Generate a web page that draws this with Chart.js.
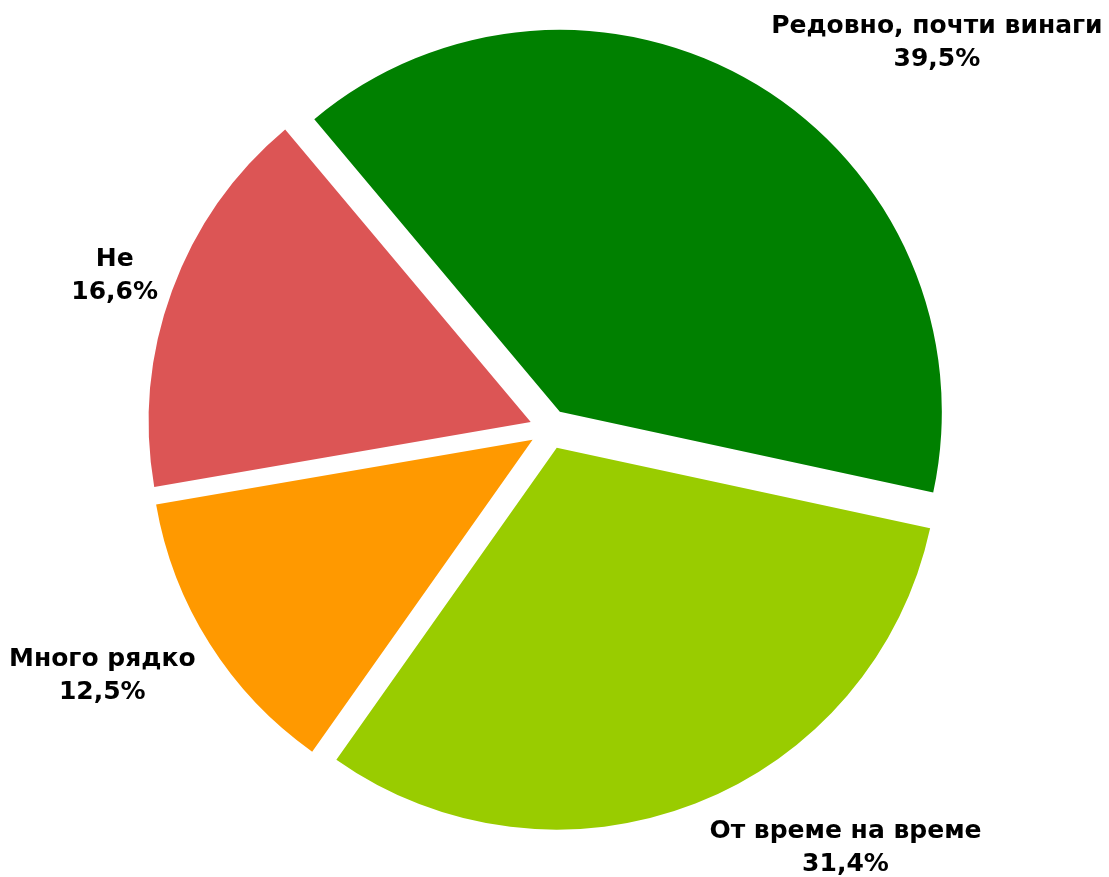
<!DOCTYPE html>
<html lang="bg">
<head>
<meta charset="utf-8">
<title>Pie</title>
<script src="https://cdn.jsdelivr.net/npm/chart.js@4/dist/chart.umd.min.js"></script>
<style>
  html, body { margin: 0; padding: 0; background: #ffffff; }
  #wrap { width: 1109px; height: 877px; }
</style>
</head>
<body>
<div id="wrap"><canvas id="pie" width="1109" height="877"></canvas></div>
<script>
// categories and shares (%)
const categories = ["Редовно, почти винаги", "От време на време", "Много рядко", "Не"];
const shares = [39.5, 31.4, 12.5, 16.6];
const sliceColors = ["#008000", "#99CC00", "#FF9900", "#DC5555"];

const EXPLODE = 20;      // how far every slice is pulled out from the center
const PAD_X = 14;        // label box padding
const HALF_Y = 54;       // half height of the label box incl. padding
const EDGE_HALF = 28;    // keeps text inside the canvas
const TEXT_DY = 4;       // baseline correction for "middle"
const LABEL_FONT = 'bold 25px "DejaVu Sans", Verdana, sans-serif';
const LINE_H = 33;

function pct(v) {
  return v.toFixed(1).replace(".", ",") + "%";
}

// draws the slices moved outwards along their middle angle
const explodePlugin = {
  id: "explode",
  beforeDatasetsDraw(chart) {
    const ctx = chart.ctx;
    const meta = chart.getDatasetMeta(0);
    meta.data.forEach(function (arc) {
      const mid = (arc.startAngle + arc.endAngle) / 2;
      ctx.save();
      ctx.translate(Math.cos(mid) * EXPLODE, Math.sin(mid) * EXPLODE);
      arc.draw(ctx);
      ctx.restore();
    });
    return false; // the default drawing is skipped
  }
};

// name + percentage outside of every slice
const outsideLabels = {
  id: "outsideLabels",
  afterDraw(chart) {
    const ctx = chart.ctx;
    const meta = chart.getDatasetMeta(0);
    ctx.save();
    ctx.font = LABEL_FONT;
    ctx.fillStyle = "#000000";
    ctx.textAlign = "center";
    ctx.textBaseline = "middle";
    meta.data.forEach(function (arc, i) {
      const mid = (arc.startAngle + arc.endAngle) / 2;
      const dx = Math.cos(mid), dy = Math.sin(mid);
      const d = arc.outerRadius + EXPLODE;
      const ax = arc.x + dx * d;
      const ay = arc.y + dy * d;
      const l1 = categories[i];
      const l2 = pct(shares[i]);
      const w = Math.max(ctx.measureText(l1).width, ctx.measureText(l2).width);
      let cx = ax + Math.sign(dx) * (w / 2 + PAD_X);
      let cy = ay + dy * HALF_Y + TEXT_DY;
      cx = Math.min(Math.max(cx, w / 2), chart.width - w / 2 - 6);
      cy = Math.min(Math.max(cy, EDGE_HALF), chart.height - EDGE_HALF - 1);
      ctx.fillText(l1, cx, cy - LINE_H / 2);
      ctx.fillText(l2, cx, cy + LINE_H / 2);
    });
    ctx.restore();
  }
};

new Chart(document.getElementById("pie"), {
  type: "pie",
  data: {
    labels: categories,
    datasets: [{
      data: shares,
      backgroundColor: sliceColors,
      borderWidth: 0
    }]
  },
  options: {
    responsive: false,
    animation: false,
    rotation: -40,
    radius: 382,
    layout: { padding: { left: 0, right: 10, top: 0, bottom: 19 } },
    plugins: {
      legend: { display: false },
      tooltip: { enabled: false }
    },
    events: []
  },
  plugins: [explodePlugin, outsideLabels]
});
</script>
</body>
</html>
